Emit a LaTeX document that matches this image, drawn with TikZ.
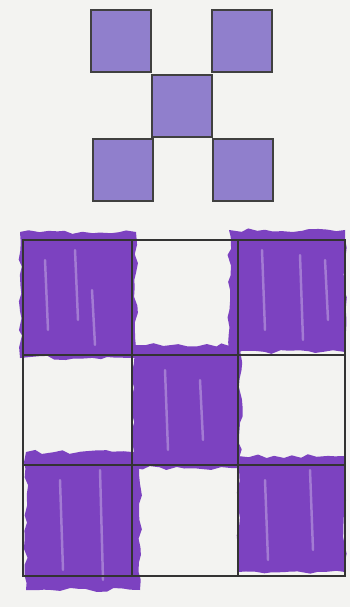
\documentclass[tikz,border=0pt]{standalone}
\usetikzlibrary{decorations.pathmorphing}
\definecolor{paper}{RGB}{243,243,241}
\definecolor{tile}{RGB}{144,127,204}
\definecolor{crayon}{RGB}{124,66,192}
\tikzset{
    sheet/.style={x=0.02cm, y=-0.02cm},
    tilebox/.style={fill=tile, draw=black!75, line width=0.7pt},
    gridline/.style={draw=black!80, line width=0.6pt},
    scribble/.style={fill=crayon, decorate, decoration={random steps, segment length=5pt, amplitude=1.2pt}},
    streak/.style={draw=white, opacity=0.3, line width=1.4pt, line cap=round},
}
\begin{document}
\begin{tikzpicture}[sheet]
    \fill[paper] (0,0) rectangle (350,607);

    % the pattern to copy
    \foreach \x/\y in {91/10, 212/10, 152/75, 93/139, 213/139}
        \draw[tilebox] (\x,\y) rectangle ++(60,62);

    % crayon filled cells
    \foreach \xa/\ya/\xb/\yb in {20/232/136/358, 229/230/345/352, 133/345/241/468, 26/452/140/590, 238/456/345/572}
        \fill[scribble] (\xa,\ya) rectangle (\xb,\yb);

    % lighter strokes of the crayon
    \foreach \x/\ya/\yb in {45/260/330, 75/250/320, 92/290/345, 262/250/330, 300/255/340, 325/260/320,
                           165/370/450, 200/380/440, 60/480/570, 100/470/580, 265/480/560, 310/470/550}
        \draw[streak] (\x,\ya) -- (\x+3,\yb);

    % the grid
    \draw[gridline] (23,240) rectangle (345,576);
    \foreach \x in {132,238}
        \draw[gridline] (\x,240) -- (\x,576);
    \foreach \y in {355,465}
        \draw[gridline] (23,\y) -- (345,\y);
\end{tikzpicture}
\end{document}
